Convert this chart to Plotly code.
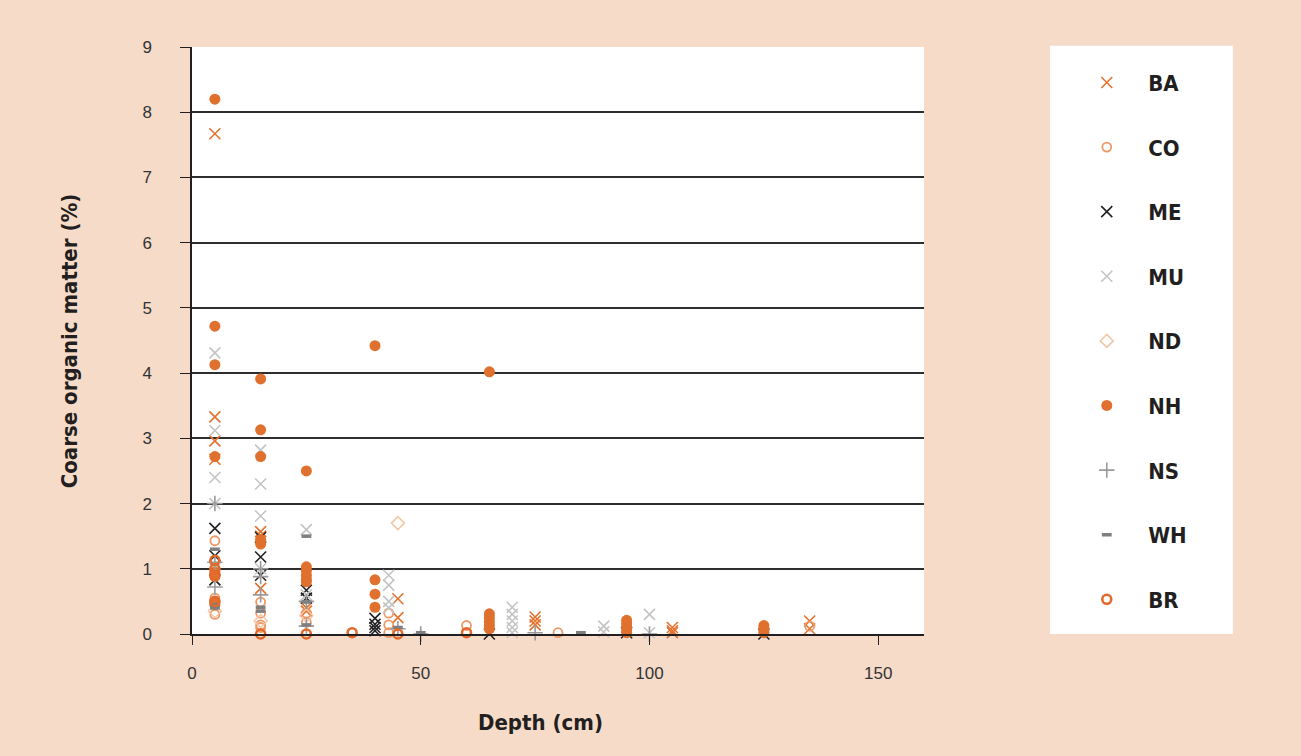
import plotly.graph_objects as go

# ---------------- data (depth cm, coarse organic matter %) ----------------
BA_depth = [5, 5, 5, 5, 15, 15, 15, 25, 25, 45, 45, 75, 75, 75, 105, 105, 105, 135, 135]
BA_com = [7.67, 3.33, 2.96, 2.68, 1.57, 1.5, 0.7, 0.4, 0.35, 0.54, 0.25, 0.26, 0.2, 0.14, 0.1, 0.05, 0.02, 0.2, 0.08]

CO_depth = [5, 5, 5, 5, 5, 15, 15, 15, 15, 25, 25, 43, 43, 43, 60, 80, 135]
CO_com = [1.43, 1.0, 0.55, 0.45, 0.3, 0.49, 0.32, 0.14, 0.1, 0.32, 0.18, 0.32, 0.14, 0.02, 0.13, 0.02, 0.12]

ME_depth = [5, 5, 5, 15, 15, 15, 25, 25, 40, 40, 40, 40, 65, 95, 125]
ME_com = [1.62, 1.2, 0.83, 1.48, 1.18, 0.9, 0.67, 0.55, 0.24, 0.15, 0.1, 0.05, 0.0, 0.02, 0.0]

MU_depth = [5, 5, 5, 5, 5, 15, 15, 15, 15, 25, 25, 43, 43, 43, 43, 70, 70, 70, 70, 70, 90, 90, 100, 100]
MU_com = [4.31, 3.12, 2.4, 2.0, 1.0, 2.82, 2.3, 1.81, 1.0, 1.6, 0.6, 0.9, 0.75, 0.5, 0.4, 0.41, 0.3, 0.2, 0.1, 0.02, 0.12, 0.03, 0.3, 0.02]

ND_depth = [5, 15, 25, 45]
ND_com = [0.35, 0.2, 0.28, 1.7]

NH_depth = [5, 5, 5, 5, 5, 5, 5, 5, 15, 15, 15, 15, 15, 25, 25, 25, 25, 25, 25,
            40, 40, 40, 40, 65, 65, 65, 65, 65, 65, 95, 95, 95, 95, 95, 125, 125, 125, 125]
NH_com = [8.2, 4.72, 4.13, 2.72, 0.95, 0.88, 0.5, 0.45, 3.91, 3.13, 2.72, 1.45, 1.38, 2.5, 1.03, 0.97, 0.9, 0.84, 0.8,
          4.42, 0.83, 0.61, 0.41, 4.02, 0.31, 0.25, 0.19, 0.13, 0.08, 0.21, 0.16, 0.11, 0.06, 0.02, 0.13, 0.09, 0.05, 0.02]

NS_depth = [5, 5, 5, 15, 15, 15, 25, 25, 45, 50, 75, 100]
NS_com = [2.0, 1.1, 0.72, 1.0, 0.88, 0.6, 0.5, 0.12, 0.08, 0.0, 0.02, 0.0]

WH_depth = [5, 5, 5, 15, 15, 25, 25, 25, 45, 50, 85]
WH_com = [1.3, 0.45, 0.4, 0.41, 0.35, 1.5, 0.49, 0.14, 0.1, 0.02, 0.02]

BR_depth = [5, 5, 5, 5, 15, 25, 35, 45, 60]
BR_com = [1.13, 1.0, 0.9, 0.5, 0.0, 0.0, 0.02, 0.0, 0.02]

x_ticks = [0, 50, 100, 150]
y_ticks = [0, 1, 2, 3, 4, 5, 6, 7, 8, 9]

PEACH = "#F6DBC9"
BOLD_FONT = "DejaVu Sans Condensed, Liberation Sans Narrow, Roboto Condensed, DejaVu Sans, Arial"
TICK_FONT = "Liberation Sans, Arial, sans-serif"

series = [
    ("BA", BA_depth, BA_com, dict(symbol="x-thin", size=11, color="#E3732F", line=dict(width=1.6, color="#E3732F"))),
    ("CO", CO_depth, CO_com, dict(symbol="circle-open", size=9, color="#EE9866", line=dict(width=1.8, color="#EE9866"))),
    ("ME", ME_depth, ME_com, dict(symbol="x-thin", size=11, color="#222222", line=dict(width=1.6, color="#222222"))),
    ("MU", MU_depth, MU_com, dict(symbol="x-thin", size=11, color="#C4C4C4", line=dict(width=1.6, color="#C4C4C4"))),
    ("ND", ND_depth, ND_com, dict(symbol="diamond-open", size=10, color="#F4C6A6", line=dict(width=1.5, color="#F4C6A6"))),
    ("NH", NH_depth, NH_com, dict(symbol="circle", size=11, color="#E0702E", line=dict(width=0, color="#E0702E"))),
    ("NS", NS_depth, NS_com, dict(symbol="cross-thin", size=11, color="#9A9A9A", line=dict(width=1.6, color="#9A9A9A"))),
    ("WH", WH_depth, WH_com, dict(symbol="line-ew", size=7, color="#7F7F7F", line=dict(width=3.5, color="#7F7F7F"))),
    ("BR", BR_depth, BR_com, dict(symbol="circle-open", size=9, color="#E3692A", line=dict(width=2.6, color="#E3692A"))),
]

fig = go.Figure()
for name, xs, ys, mk in series:
    fig.add_trace(go.Scatter(
        x=xs, y=ys, mode="markers", name=name, legendgroup=name,
        marker=mk, cliponaxis=False,
    ))

fig.update_layout(
    width=1301, height=756,
    paper_bgcolor=PEACH, plot_bgcolor="white",
    margin=dict(l=192, r=377, t=47, b=122, autoexpand=False),
    showlegend=True,
    legend=dict(
        x=1.193, y=0.975, xanchor="left", yanchor="top",
        bgcolor="rgba(0,0,0,0)", borderwidth=0,
        font=dict(family=BOLD_FONT, size=22, color="#231F20", weight="bold"),
        tracegroupgap=33, itemwidth=73, itemsizing="trace",
    ),
    shapes=[dict(type="rect", xref="paper", yref="paper", x0=1.172, x1=1.422, y0=0, y1=1.002,
                 fillcolor="white", line=dict(width=0), layer="below")],
    annotations=[
        dict(text="Coarse organic matter (%)", xref="paper", yref="paper", x=-0.167, y=0.50,
             xanchor="center", yanchor="middle", textangle=-90, showarrow=False,
             font=dict(family=BOLD_FONT, size=22, color="#231F20", weight="bold")),
        dict(text="Depth (cm)", xref="paper", yref="paper", x=0.476, y=-0.15,
             xanchor="center", yanchor="middle", showarrow=False,
             font=dict(family=BOLD_FONT, size=22, color="#231F20", weight="bold")),
    ],
)

fig.update_xaxes(
    range=[0, 160], tickvals=x_ticks, ticks="outside", ticklen=9, tickwidth=1.2, tickcolor="#231F20",
    showgrid=False, zeroline=False, showline=True, linecolor="#231F20", linewidth=1.5,
    tickfont=dict(family=TICK_FONT, size=17, color="#333333"),
    ticklabelstandoff=14,
)
fig.update_yaxes(
    range=[0, 9], tickvals=y_ticks, ticks="outside", ticklen=10, tickwidth=1.2, tickcolor="#231F20",
    showgrid=True, gridcolor="#2E2E2E", gridwidth=1.5, zeroline=False,
    showline=True, linecolor="#231F20", linewidth=1.5,
    tickfont=dict(family=TICK_FONT, size=17, color="#333333"),
    ticklabelstandoff=25,
)

fig.write_html("out.html", config={"displayModeBar": False},
               post_script="document.body.style.margin='0';")
